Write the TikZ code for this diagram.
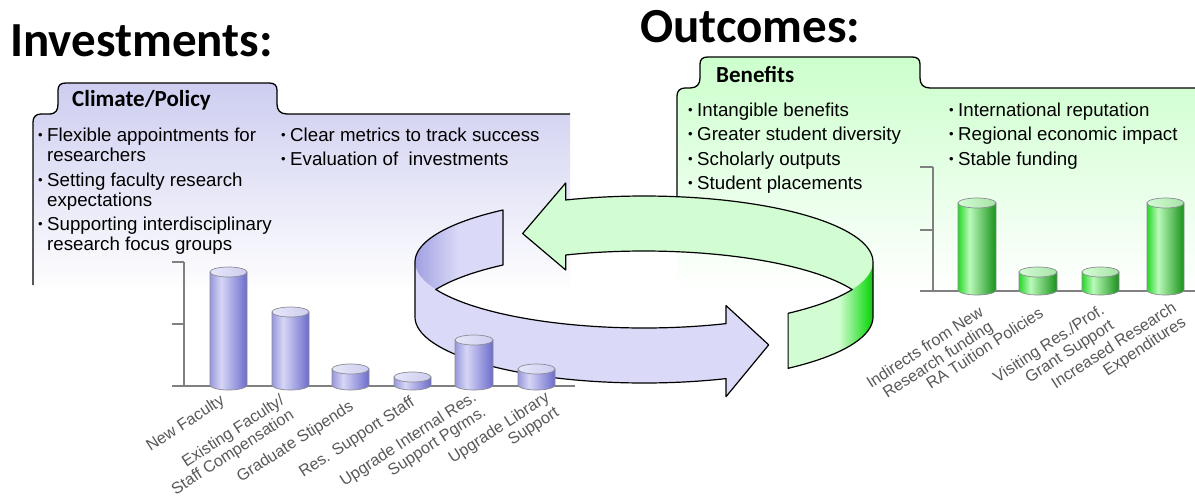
\documentclass[tikz,border=0pt]{standalone}
\usepackage{fontspec}
\setmainfont{Liberation Sans}
\newfontfamily\calib{Carlito}
\definecolor{lavL}{RGB}{205,205,240}
\definecolor{grnL}{RGB}{204,255,204}
\definecolor{ringB}{RGB}{218,218,248}
\definecolor{ringBd}{RGB}{160,160,226}
\definecolor{ringG}{RGB}{210,252,210}
\definecolor{ringGd}{RGB}{40,222,40}
\definecolor{ringGe}{RGB}{30,190,30}
\definecolor{axisgray}{RGB}{128,128,128}
\definecolor{labgray}{RGB}{89,89,89}
\definecolor{cylline}{RGB}{140,140,150}
\definecolor{bL}{RGB}{152,152,220}
\definecolor{bM}{RGB}{214,214,246}
\definecolor{bR}{RGB}{108,108,204}
\definecolor{bT}{RGB}{222,222,246}
\definecolor{gL}{RGB}{40,215,40}
\definecolor{gM}{RGB}{185,250,185}
\definecolor{gR}{RGB}{25,145,25}
\definecolor{gT}{RGB}{190,242,190}
\pgfdeclarehorizontalshading{Bbody}{100bp}{color(0bp)=(bL); color(25bp)=(bL); color(40bp)=(bM); color(75bp)=(bR); color(100bp)=(bR)}
\pgfdeclarehorizontalshading{Gbody}{100bp}{color(0bp)=(gL); color(25bp)=(gL); color(40bp)=(gM); color(75bp)=(gR); color(100bp)=(gR)}
\pgfdeclarehorizontalshading{Btop}{100bp}{color(0bp)=(bT); color(25bp)=(bM!60!white); color(75bp)=(bT!85!bR); color(100bp)=(bT!85!bR)}
\pgfdeclarehorizontalshading{Gtop}{100bp}{color(0bp)=(gT); color(25bp)=(gM!60!white); color(75bp)=(gT!85!gR); color(100bp)=(gT!85!gR)}
\pgfdeclarehorizontalshading{ringLav}{100bp}{color(0bp)=(ringBd); color(25bp)=(ringBd); color(50bp)=(ringB); color(100bp)=(ringB)}
\pgfdeclarehorizontalshading{ringGrn}{100bp}{color(0bp)=(ringG); color(25bp)=(ringG); color(55bp)=(ringG); color(71bp)=(ringGd); color(75bp)=(ringGe); color(100bp)=(ringGe)}
\newcommand\cyl[5]{%
  \path[shading=#5body, draw=cylline, line width=0.7pt]
    (#1,#3) -- (#1,#4) -- plot[domain=180:0,samples=25,variable=\t]
    ({(#1+#2)/2+(#2-#1)/2*cos(\t)},{#4+5*sin(\t)}) -- (#2,#3) -- cycle;
  \path[shading=#5top, draw=cylline, line width=0.7pt]
    ({(#1+#2)/2},#3) ellipse [x radius={(#2-#1)/2*1pt}, y radius=5pt];
}
\newcommand\sbul{{\fontsize{13}{13}\selectfont\raisebox{1.5pt}{•}}}
\tikzset{
  title/.style={anchor=base west, inner sep=0, font=\calib\bfseries\fontsize{49}{50}\selectfont},
  tabtxt/.style={anchor=base west, inner sep=0, font=\calib\bfseries\fontsize{23}{24}\selectfont},
  btxt/.style={anchor=base west, inner sep=0, font=\fontsize{18.7}{20}\selectfont},
  lab/.style={inner sep=0, anchor=north east, rotate=33, align=right, text=labgray, font=\fontsize{16.2}{17.5}\selectfont},
  panel/.style={draw=black, line width=1.3pt},
  axisline/.style={draw=axisgray, line width=1.5pt},
  ringline/.style={draw=black, line width=1.2pt, line join=round},
}
\begin{document}
\begin{tikzpicture}[x=1pt,y=-1pt]
\useasboundingbox (0,0) rectangle (1195,496);
\fill[white] (0,0) rectangle (1195,496);
% ---------- left panel
\shade[top color=lavL, bottom color=white]
  (33,292) -- (33,122) .. controls (33,117) and (36,114) .. (41,114) -- (49,114)
  .. controls (56,114) and (58,110) .. (58,104) -- (58,90)
  .. controls (58,85) and (61,83) .. (66,83) -- (269,83)
  .. controls (274,83) and (277,85) .. (277,90) -- (277,104)
  .. controls (277,110) and (280,114) .. (287,114) -- (570,114) -- (570,292) -- cycle;
\draw[panel]
  (33,285) -- (33,122) .. controls (33,117) and (36,114) .. (41,114) -- (49,114)
  .. controls (56,114) and (58,110) .. (58,104) -- (58,90)
  .. controls (58,85) and (61,83) .. (66,83) -- (269,83)
  .. controls (274,83) and (277,85) .. (277,90) -- (277,104)
  .. controls (277,110) and (280,114) .. (287,114) -- (570,114);
% ---------- right panel
\shade[top color=grnL, bottom color=white]
  (677,292) -- (677,96) .. controls (677,91) and (680,88) .. (685,88) -- (690,88)
  .. controls (697,88) and (700,84) .. (700,78) -- (700,64)
  .. controls (700,59) and (703,57) .. (708,57) -- (912,57)
  .. controls (917,57) and (920,59) .. (920,64) -- (920,78)
  .. controls (920,84) and (923,88) .. (930,88) -- (1195,88) -- (1195,292) -- cycle;
\draw[panel]
  (677,240) -- (677,96) .. controls (677,91) and (680,88) .. (685,88) -- (690,88)
  .. controls (697,88) and (700,84) .. (700,78) -- (700,64)
  .. controls (700,59) and (703,57) .. (708,57) -- (912,57)
  .. controls (917,57) and (920,59) .. (920,64) -- (920,78)
  .. controls (920,84) and (923,88) .. (930,88) -- (1196,88);
% ---------- titles and tabs
\node[title] (tinv) at (10,56) {Investments:};
\node[title] (tout) at (640,42) {Outcomes:};
\node[tabtxt] (tclim) at (72,106) {Climate/Policy};
\node[tabtxt] (tben) at (716,82) {Benefits};
% ---------- left bullets
\node[btxt] (b1) at (38,141) {\sbul};
\node[btxt] (l1) at (47,141) {Flexible appointments for};
\node[btxt] (l2) at (47,161) {researchers};
\node[btxt] (b2) at (38,186) {\sbul};
\node[btxt] (l3) at (47,186) {Setting faculty research};
\node[btxt] (l4) at (47,206) {expectations};
\node[btxt] (b3) at (38,230) {\sbul};
\node[btxt] (l5) at (47,230) {Supporting interdisciplinary};
\node[btxt] (l6) at (47,250) {research focus groups};
\node[btxt] (b4) at (281,141) {\sbul};
\node[btxt] (l7) at (290,141) {Clear metrics to track success};
\node[btxt] (b5) at (281,165) {\sbul};
\node[btxt] (l8) at (290,165) {Evaluation of\ \ investments};
% ---------- right bullets
\node[btxt] (r1b) at (688,116) {\sbul};
\node[btxt] (r1) at (697,116) {Intangible benefits};
\node[btxt] (r2b) at (688,140) {\sbul};
\node[btxt] (r2) at (697,140) {Greater student diversity};
\node[btxt] (r3b) at (688,165) {\sbul};
\node[btxt] (r3) at (697,165) {Scholarly outputs};
\node[btxt] (r4b) at (688,189) {\sbul};
\node[btxt] (r4) at (697,189) {Student placements};
\node[btxt] (r5b) at (949,116) {\sbul};
\node[btxt] (r5) at (958,116) {International reputation};
\node[btxt] (r6b) at (949,140) {\sbul};
\node[btxt] (r6) at (958,140) {Regional economic impact};
\node[btxt] (r7b) at (949,165) {\sbul};
\node[btxt] (r7) at (958,165) {Stable funding};
% ---------- ring: lavender arrow
\fill[ringB]
  ({644+229*cos(232)},{262+66*sin(232)})
  -- plot[domain=232:180,samples=30,variable=\t] ({644+229*cos(\t)},{262+66*sin(\t)})
  -- plot[domain=180:69,samples=50,variable=\t] ({644+229*cos(\t)},{317+66*sin(\t)})
  -- ({644+229*cos(69)},{317+66*sin(69)+18})
  -- ({644+229*cos(57)},{289.5+66*sin(57)})
  -- ({644+229*cos(69)},{262+66*sin(69)-18})
  -- plot[domain=69:155.4,samples=40,variable=\t] ({644+229*cos(\t)},{262+66*sin(\t)})
  -- plot[domain=204.6:232,samples=20,variable=\t] ({644+229*cos(\t)},{317+66*sin(\t)})
  -- cycle;
\path[shading=ringLav]
  plot[domain=232:180,samples=30,variable=\t] ({644+229*cos(\t)},{262+66*sin(\t)})
  -- plot[domain=180:232,samples=30,variable=\t] ({644+229*cos(\t)},{317+66*sin(\t)}) -- cycle;
\fill[ringB]
  plot[domain=69:180,samples=50,variable=\t] ({644+229*cos(\t)},{262+66*sin(\t)})
  -- plot[domain=180:69,samples=50,variable=\t] ({644+229*cos(\t)},{317+66*sin(\t)}) -- cycle;
\draw[ringline]
  ({644+229*cos(232)},{262+66*sin(232)})
  -- plot[domain=232:180,samples=30,variable=\t] ({644+229*cos(\t)},{262+66*sin(\t)})
  -- plot[domain=180:69,samples=50,variable=\t] ({644+229*cos(\t)},{317+66*sin(\t)})
  -- ({644+229*cos(69)},{317+66*sin(69)+18})
  -- ({644+229*cos(57)},{289.5+66*sin(57)})
  -- ({644+229*cos(69)},{262+66*sin(69)-18})
  -- plot[domain=69:155.4,samples=40,variable=\t] ({644+229*cos(\t)},{262+66*sin(\t)})
  -- plot[domain=204.6:232,samples=20,variable=\t] ({644+229*cos(\t)},{317+66*sin(\t)})
  -- cycle;
% ---------- ring: green arrow
\fill[ringG]
  ({644+229*cos(238)},{289.5+66*sin(238)})
  -- ({644+229*cos(250)},{262+66*sin(250)-17})
  -- plot[domain=250:360,samples=50,variable=\t] ({644+229*cos(\t)},{262+66*sin(\t)})
  -- plot[domain=0:51,samples=25,variable=\t] ({644+229*cos(\t)},{317+66*sin(\t)})
  -- plot[domain=51:24.6,samples=15,variable=\t] ({644+229*cos(\t)},{262+66*sin(\t)})
  -- plot[domain=335.4:250,samples=40,variable=\t] ({644+229*cos(\t)},{317+66*sin(\t)})
  -- ({644+229*cos(250)},{317+66*sin(250)+15})
  -- cycle;
\path[shading=ringGrn]
  plot[domain=0:51,samples=25,variable=\t] ({644+229*cos(\t)},{262+66*sin(\t)})
  -- plot[domain=51:0,samples=25,variable=\t] ({644+229*cos(\t)},{317+66*sin(\t)}) -- cycle;
\draw[ringline]
  ({644+229*cos(238)},{289.5+66*sin(238)})
  -- ({644+229*cos(250)},{262+66*sin(250)-17})
  -- plot[domain=250:360,samples=50,variable=\t] ({644+229*cos(\t)},{262+66*sin(\t)})
  -- plot[domain=0:51,samples=25,variable=\t] ({644+229*cos(\t)},{317+66*sin(\t)})
  -- plot[domain=51:24.6,samples=15,variable=\t] ({644+229*cos(\t)},{262+66*sin(\t)})
  -- plot[domain=335.4:250,samples=40,variable=\t] ({644+229*cos(\t)},{317+66*sin(\t)})
  -- ({644+229*cos(250)},{317+66*sin(250)+15})
  -- cycle;
% ---------- left chart
\draw[axisline] (172,262) -- (184,262) (172,324) -- (184,324) (184,262) -- (184,386) (172,386) -- (575,386);
\cyl{210}{247}{272}{385}{B}
\cyl{272}{309}{312}{385}{B}
\cyl{332}{369}{369}{385}{B}
\cyl{394}{431}{377}{385}{B}
\cyl{455}{493}{340}{385}{B}
\cyl{518}{555}{369}{385}{B}
\node[lab] (c1) at (219,393) {New Faculty};
\node[lab] (c2) at (279,393) {Existing Faculty/\\Staff Compensation};
\node[lab] (c3) at (348,399) {Graduate Stipends};
\node[lab] (c4) at (409,395) {Res. Support Staff};
\node[lab] (c5) at (471,390) {Upgrade Internal Res.\\Support Pgrms.};
\node[lab] (c6) at (544,390) {Upgrade Library\\Support};
% ---------- right chart
\draw[axisline] (920,167) -- (933,167) (920,230) -- (933,230) (933,167) -- (933,291) (920,291) -- (1195,291);
\cyl{958}{996}{203}{290}{G}
\cyl{1019}{1057}{272}{290}{G}
\cyl{1082}{1119}{272}{290}{G}
\cyl{1147}{1184}{203}{290}{G}
\node[lab] (d1) at (978,305) {Indirects from New\\Research funding};
\node[lab] (d2) at (1038,306) {RA Tuition Policies};
\node[lab] (d3) at (1099,303) {Visiting Res./Prof.\\Grant Support};
\node[lab] (d4) at (1171,300) {Increased Research\\Expenditures};
\end{tikzpicture}
\end{document}
